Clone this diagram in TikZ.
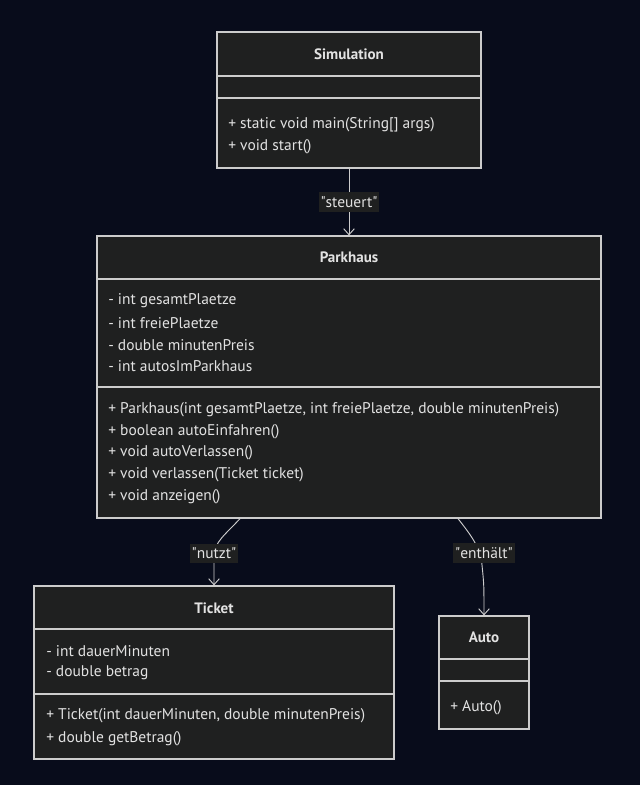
\documentclass[tikz,border=0pt]{standalone}
\usepackage{fontspec}
\setmainfont{PT Sans}
\usepackage{tikz}
\usetikzlibrary{fit,arrows.meta}
\definecolor{bgcol}{HTML}{080C1B}
\definecolor{boxfill}{HTML}{1F2020}
\definecolor{boxline}{HTML}{CCCCCC}
\definecolor{txtcol}{HTML}{E2E2E2}
\newcommand{\qtd}[1]{\textquotedbl#1\textquotedbl}
\tikzstyle{classbox}=[draw=boxline, fill=boxfill, line width=.9pt, inner sep=0pt]
\tikzstyle{divider}=[draw=boxline, line width=.9pt]
\tikzstyle{title}=[text=txtcol, font=\fontsize{11.3}{13}\selectfont\bfseries]
\tikzstyle{member}=[anchor=west, inner sep=0pt, text=txtcol, font=\fontsize{11.6}{13}\selectfont]
\tikzstyle{dep}=[draw=boxline, line width=.7pt, -{Straight Barb[length=4.5pt,width=8pt]}]
\tikzstyle{lbl}=[fill=boxfill, text=txtcol, inner xsep=1.5pt, inner ysep=3pt, font=\fontsize{11.6}{13}\selectfont]

\begin{document}
\begin{tikzpicture}[x=.75pt, y=-.75pt]

		\fill[bgcol] (0,0) rectangle (640,785);
		\useasboundingbox (0,0) rectangle (640,785);

		% Simulation
		\node[classbox, fit={(217,32) (481,168)}] (sim) {};
		\draw[divider] (sim.west |- 0,76) -- (sim.east |- 0,76);
		\draw[divider] (sim.west |- 0,98) -- (sim.east |- 0,98);
		\node[title] (simt) at (349,54) {Simulation};
		\foreach \y/\t [count=\i] in {125/{+ static void main(String[] args)}, 147/{+ void start()}}{
			\node[member] (simm\i) at (228,\y) {\t};
		}

		% Parkhaus
		\node[classbox, fit={(97,236) (601,518)}] (park) {};
		\draw[divider] (park.west |- 0,279) -- (park.east |- 0,279);
		\draw[divider] (park.west |- 0,387) -- (park.east |- 0,387);
		\node[title] (parkt) at (349,257) {Parkhaus};
		\foreach \y/\t [count=\i] in {301/{- int gesamtPlaetze}, 323/{- int freiePlaetze}, 345/{- double minutenPreis}, 366/{- int autosImParkhaus}}{
			\node[member] (parka\i) at (108,\y) {\t};
		}
		\foreach \y/\t [count=\i] in {410/{+ Parkhaus(int gesamtPlaetze, int freiePlaetze, double minutenPreis)}, 432/{+ boolean autoEinfahren()}, 453/{+ void autoVerlassen()}, 475/{+ void verlassen(Ticket ticket)}, 497/{+ void anzeigen()}}{
			\node[member] (parkm\i) at (108,\y) {\t};
		}

		% Ticket
		\node[classbox, fit={(34,586) (394,759)}] (ticket) {};
		\draw[divider] (ticket.west |- 0,629) -- (ticket.east |- 0,629);
		\draw[divider] (ticket.west |- 0,694) -- (ticket.east |- 0,694);
		\node[title] (tickett) at (214,608) {Ticket};
		\foreach \y/\t [count=\i] in {651/{- int dauerMinuten}, 673/{- double betrag}}{
			\node[member] (ticketa\i) at (46,\y) {\t};
		}
		\foreach \y/\t [count=\i] in {716/{+ Ticket(int dauerMinuten, double minutenPreis)}, 739/{+ double getBetrag()}}{
			\node[member] (ticketm\i) at (46,\y) {\t};
		}

		% Auto
		\node[classbox, fit={(439,616) (529,729)}] (auto) {};
		\draw[divider] (auto.west |- 0,659) -- (auto.east |- 0,659);
		\draw[divider] (auto.west |- 0,681) -- (auto.east |- 0,681);
		\node[title] (autot) at (484,637) {Auto};
		\node[member] (autom1) at (450,708) {+ Auto()};

		% Beziehungen
		\draw[dep] (sim.south) -- (park.north);
		\draw[dep] (park.south -| 240,0) .. controls (226,534) and (214,542) .. (214,556) -- (ticket.north);
		\draw[dep] (park.south -| 458,0) .. controls (470,534) and (481,548) .. (482,565) .. controls (484,585) .. (auto.north);

		\node[lbl] (lsteuert) at (349,202) {\qtd{steuert}};
		\node[lbl] (lnutzt) at (214,553) {\qtd{nutzt}};
		\node[lbl] (lenthaelt) at (484,553) {\qtd{enthält}};

\end{tikzpicture}
\end{document}
